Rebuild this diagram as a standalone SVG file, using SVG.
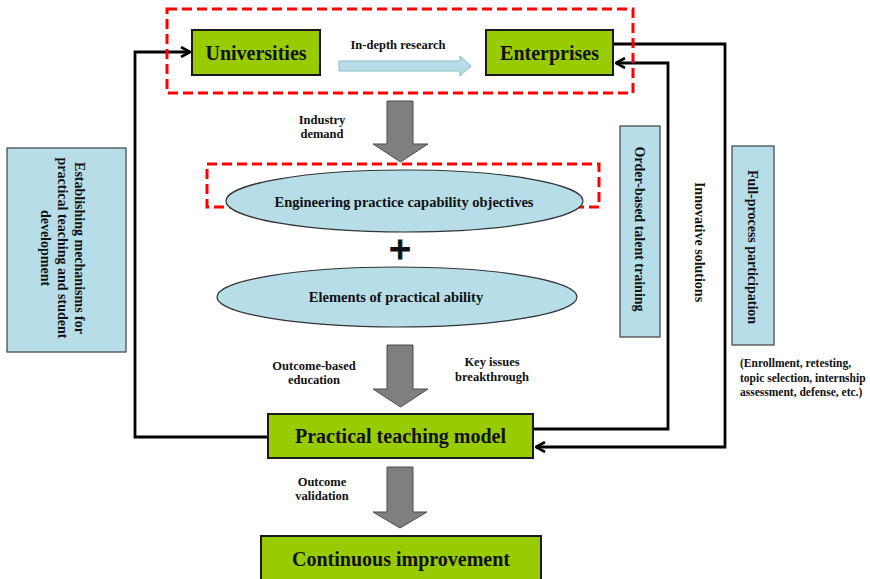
<svg xmlns="http://www.w3.org/2000/svg" width="870" height="579" viewBox="0 0 870 579">
<defs>
<style>
text{font-family:"Liberation Serif","Times New Roman",serif;font-weight:bold;fill:#111;}
.gbox{fill:#99cc00;stroke:#1a1a1a;stroke-width:2;}
.bbox{fill:#b7dee8;stroke:#404040;stroke-width:1.2;}
.ell{fill:#b7dee8;stroke:#333;stroke-width:1.2;}
.dash{fill:none;stroke:#ff0000;stroke-width:3;stroke-dasharray:10 5;}
.gray{fill:#7f7f7f;stroke:#4d4d4d;stroke-width:1;}
.conn{fill:none;stroke:#000;stroke-width:2.8;}
.big{font-size:20px;}
.mid{font-size:14.5px;}
.lbl{font-size:12.5px;}
.side{font-size:14px;}
</style>
<marker id="open" viewBox="0 0 12 12" refX="11" refY="6" markerWidth="12" markerHeight="12" markerUnits="userSpaceOnUse" orient="auto">
<path d="M2,1 L11,6 L2,11" fill="none" stroke="#000" stroke-width="2.6"/>
</marker>
</defs>
<rect width="870" height="579" fill="#fff"/>

<g id="connectors">
<path class="conn" d="M268,437 H135 V52 H190" marker-end="url(#open)"/>
<path class="conn" d="M613,44 H725 V447 H536" marker-end="url(#open)"/>
<path class="conn" d="M533,429 H668 V63 H616" marker-end="url(#open)"/>
<path d="M339,61 H460 V56 L471,66 L460,76 V71 H339 Z" fill="#b7dee8" stroke="#8fb8c4" stroke-width="1"/>
<path class="gray" d="M387,101 H413 V144 H428 L400.5,162 L373,144 H387 Z"/>
<path class="gray" d="M387,345 H413 V389 H428 L400.5,407 L373,389 H387 Z"/>
<path class="gray" d="M387,467 H413 V512 H427 L400,528 L373,512 H387 Z"/>
</g>

<g id="top-group">
<rect class="dash" x="167" y="9" width="466" height="84"/>
</g>

<g id="universities">
<rect class="gbox" x="192" y="30" width="128" height="45"/>
<text class="big" x="256" y="60" text-anchor="middle">Universities</text>
</g>

<g id="enterprises">
<rect class="gbox" x="486" y="30" width="127" height="45"/>
<text class="big" x="549.5" y="60" text-anchor="middle">Enterprises</text>
</g>

<g id="label-research">
<text class="lbl" x="398" y="49" text-anchor="middle">In-depth research</text>
</g>

<g id="label-industry">
<text class="lbl" x="322" y="124" text-anchor="middle">Industry</text>
<text class="lbl" x="322" y="138" text-anchor="middle">demand</text>
</g>

<g id="objectives">
<rect class="dash" x="207" y="164" width="392" height="43"/>
<ellipse class="ell" cx="404.5" cy="201" rx="178.5" ry="31"/>
<text class="mid" x="404" y="207" text-anchor="middle">Engineering practice capability objectives</text>
</g>

<g id="plus">
<text x="400" y="259" text-anchor="middle" font-size="30" style="font-family:'DejaVu Sans',sans-serif" stroke="#111" stroke-width="0.8">+</text>
</g>

<g id="elements">
<ellipse class="ell" cx="397" cy="297" rx="180" ry="30"/>
<text class="mid" x="396" y="302" text-anchor="middle">Elements of practical ability</text>
</g>

<g id="label-obe">
<text class="lbl" x="314" y="370" text-anchor="middle">Outcome-based</text>
<text class="lbl" x="314" y="384" text-anchor="middle">education</text>
</g>

<g id="label-key">
<text class="lbl" x="492" y="366" text-anchor="middle">Key issues</text>
<text class="lbl" x="492" y="381" text-anchor="middle">breakthrough</text>
</g>

<g id="practical-model">
<rect class="gbox" x="268" y="414" width="265" height="44"/>
<text class="big" x="400.5" y="443" text-anchor="middle">Practical teaching model</text>
</g>

<g id="label-validation">
<text class="lbl" x="322" y="486" text-anchor="middle">Outcome</text>
<text class="lbl" x="322" y="500" text-anchor="middle">validation</text>
</g>

<g id="continuous">
<rect class="gbox" x="261" y="536" width="280" height="46"/>
<text class="big" x="401" y="566" text-anchor="middle">Continuous improvement</text>
</g>

<g id="mechanisms">
<rect class="bbox" x="7" y="148" width="119" height="204"/>
<g transform="translate(66,248) rotate(90)">
<text class="side" x="0" y="-9" text-anchor="middle">Establishing mechanisms for</text>
<text class="side" x="0" y="8" text-anchor="middle">practical teaching and student</text>
<text class="side" x="0" y="25" text-anchor="middle">development</text>
</g>
</g>

<g id="order-based">
<rect class="bbox" x="620" y="126" width="40" height="211"/>
<text class="side" transform="translate(635,229) rotate(90)" x="0" y="0" text-anchor="middle">Order-based talent training</text>
</g>

<g id="innovative">
<text class="side" transform="translate(695,242) rotate(90)" x="0" y="0" text-anchor="middle">Innovative solutions</text>
</g>

<g id="full-process">
<rect class="bbox" x="732" y="146" width="42" height="199"/>
<text class="side" transform="translate(748,247) rotate(90)" x="0" y="0" text-anchor="middle">Full-process participation</text>
</g>

<g id="note">
<text font-size="11.5" x="740" y="367">(Enrollment, retesting,</text>
<text font-size="11.5" x="740" y="382">topic selection, internship</text>
<text font-size="11.5" x="740" y="396">assessment, defense, etc.)</text>
</g>
</svg>
